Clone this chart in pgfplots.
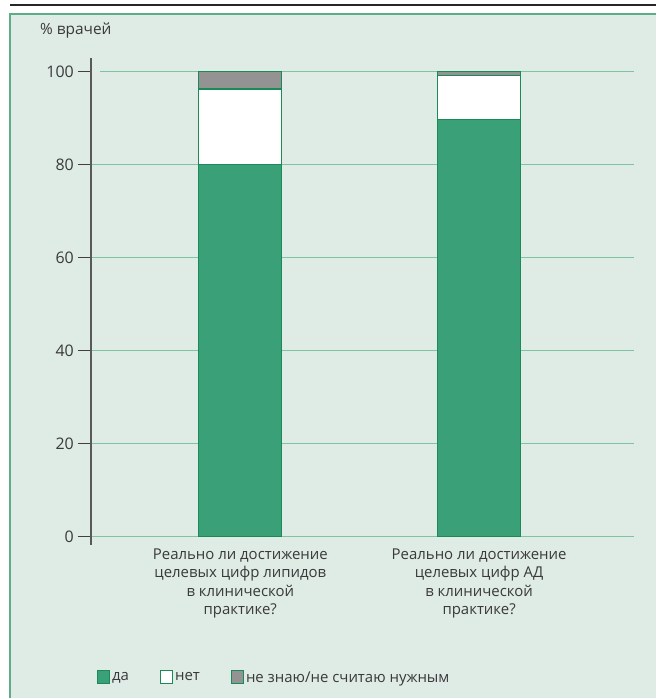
\documentclass[border=0pt]{standalone}
\usepackage{pgfplots}
\pgfplotsset{compat=1.18}
\usepackage{fontspec}
\setmainfont{Open Sans}
\definecolor{bgcol}{HTML}{DFEBE5}
\definecolor{bordercol}{HTML}{5DAE86}
\definecolor{gridcol}{HTML}{7EC4A2}
\definecolor{dagreen}{HTML}{3AA078}
\definecolor{daedge}{HTML}{1A8A58}
\definecolor{greyfill}{HTML}{939393}
\definecolor{txt}{HTML}{3A3A3A}
\begin{document}
\begin{tikzpicture}[x=1bp,y=1bp]
\path (0,0) rectangle (657,699);
\fill[bgcol] (10,0) rectangle (657,685);
\draw[bordercol, line width=1.2bp] (10,0) -- (10,685) -- (657,685);
\draw[black!85, line width=1.5bp] (10,694) -- (657,694);
\node[anchor=base west, font=\fontsize{15.5}{18}\selectfont, text=txt, inner sep=0pt] at (40,664) {\% врачей};
\begin{axis}[
  at={(91bp,154bp)}, anchor=south west,
  width=544bp, height=487bp, scale only axis,
  xmin=-0.6255, xmax=1.6506,
  ymin=-1.72, ymax=103.0,
  axis y line*=left, axis x line*=bottom,
  x axis line style={draw=none},
  y axis line style={draw=black!65, line width=1.2bp, -},
  ytick={0,20,40,60,80,100},
  xtick={0,1},
  xticklabels={{Реально ли достижение\\целевых цифр липидов\\в клинической\\практике?},{Реально ли достижение\\целевых цифр АД\\в клинической\\практике?}},
  xticklabel style={align=center, font=\fontsize{15}{18.5}\selectfont, text=txt, inner sep=0bp, yshift=9bp},
  yticklabel style={font=\fontsize{16}{18}\selectfont, text=txt, inner sep=4bp},
  /pgf/number format/assume math mode=true,
  tick align=outside,
  major tick length=13bp,
  xtick style={draw=none},
  ytick style={draw=black!75, line width=1bp},
  ymajorgrids,
  grid style={gridcol, line width=1bp, shorten <=9bp},
  ybar stacked,
  bar width=83bp,
  legend columns=3,
  legend style={at={(0.011,-0.2567)}, anchor=north west, draw=none, fill=none,
    font=\fontsize{15}{18}\selectfont, text=txt,
    /tikz/every even column/.append style={column sep=29bp},
    inner sep=0pt, outer sep=0pt},
  legend cell align=left,
  legend image code/.code={\draw[#1, line width=1.2bp] (0bp,-6bp) rectangle (12bp,7bp);},
]
\addplot[fill=dagreen, draw=daedge, line width=1.2bp] coordinates {(0,80.0) (1,89.7)};
\addplot[fill=white, draw=daedge, line width=1.2bp] coordinates {(0,16.3) (1,9.6)};
\addplot[fill=greyfill, draw=daedge, line width=1.2bp] coordinates {(0,3.7) (1,0.7)};
\legend{да,нет,не знаю/не считаю нужным}
\end{axis}
\end{tikzpicture}
\end{document}
